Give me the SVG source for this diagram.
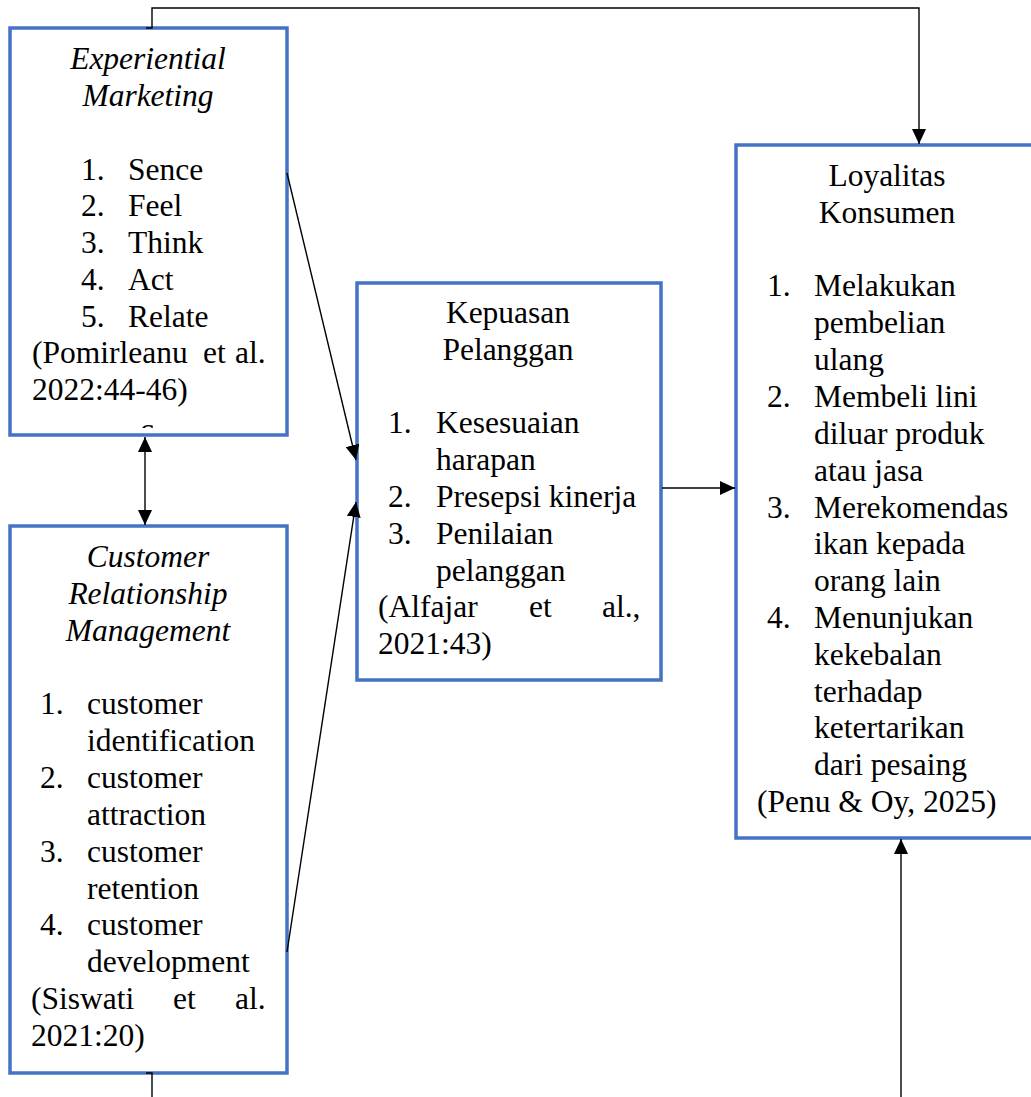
<svg xmlns="http://www.w3.org/2000/svg" width="1031" height="1097" viewBox="0 0 1031 1097">
<defs>
<style>
.box{fill:#ffffff;stroke:#4472C4;stroke-width:3.5}
.t{font-family:"Liberation Serif","Times New Roman",serif;font-size:31.5px;fill:#000}
.c{text-anchor:middle}
.i{font-style:italic}
.ln{fill:none;stroke:#000;stroke-width:1.4}
</style>
<marker id="ah" markerUnits="userSpaceOnUse" markerWidth="16" markerHeight="14" refX="15" refY="7" orient="auto-start-reverse">
<path d="M0,0 L15,7 L0,14 z" fill="#000"/>
</marker>
<clipPath id="cclip"><rect x="120" y="410" width="60" height="18"/></clipPath>
</defs>
<rect width="1031" height="1097" fill="#ffffff"/>

<g id="node-experiential">
<rect class="box" x="10" y="28" width="277" height="407"/>
<text class="t c i" x="148" y="69">Experiential</text>
<text class="t c i" x="148" y="106">Marketing</text>
<text class="t" x="81" y="180">1.</text><text class="t" x="128" y="180">Sence</text>
<text class="t" x="81" y="216">2.</text><text class="t" x="128" y="216">Feel</text>
<text class="t" x="81" y="253">3.</text><text class="t" x="128" y="253">Think</text>
<text class="t" x="81" y="290">4.</text><text class="t" x="128" y="290">Act</text>
<text class="t" x="81" y="327">5.</text><text class="t" x="128" y="327">Relate</text>
<text class="t" x="32" y="363">(Pomirleanu</text><text class="t" x="203" y="363">et</text><text class="t" x="235" y="363">al.</text>
<text class="t" x="32" y="400">2022:44-46)</text>
<text class="t c" x="147" y="440" clip-path="url(#cclip)">c</text>
</g>

<g id="node-crm">
<rect class="box" x="10" y="526" width="277" height="547"/>
<text class="t c i" x="148" y="567">Customer</text>
<text class="t c i" x="148" y="604">Relationship</text>
<text class="t c i" x="148" y="641">Management</text>
<text class="t" x="40" y="714">1.</text><text class="t" x="87" y="714">customer</text>
<text class="t" x="87" y="751">identification</text>
<text class="t" x="40" y="788">2.</text><text class="t" x="87" y="788">customer</text>
<text class="t" x="87" y="825">attraction</text>
<text class="t" x="40" y="862">3.</text><text class="t" x="87" y="862">customer</text>
<text class="t" x="87" y="899">retention</text>
<text class="t" x="40" y="935">4.</text><text class="t" x="87" y="935">customer</text>
<text class="t" x="87" y="972">development</text>
<text class="t" x="31" y="1009">(Siswati</text><text class="t" x="173" y="1009">et</text><text class="t" x="235" y="1009">al.</text>
<text class="t" x="31" y="1046">2021:20)</text>
</g>

<g id="node-kepuasan">
<rect class="box" x="357" y="283" width="304" height="397"/>
<text class="t c" x="508" y="323">Kepuasan</text>
<text class="t c" x="508" y="360">Pelanggan</text>
<text class="t" x="388" y="433">1.</text><text class="t" x="436" y="433">Kesesuaian</text>
<text class="t" x="436" y="470">harapan</text>
<text class="t" x="388" y="507">2.</text><text class="t" x="436" y="507">Presepsi kinerja</text>
<text class="t" x="388" y="544">3.</text><text class="t" x="436" y="544">Penilaian</text>
<text class="t" x="436" y="581">pelanggan</text>
<text class="t" x="378" y="617">(Alfajar</text><text class="t" x="529" y="617">et</text><text class="t" x="602" y="617">al.,</text>
<text class="t" x="378" y="654">2021:43)</text>
</g>

<g id="node-loyalitas">
<rect class="box" x="736" y="145" width="304" height="693"/>
<text class="t c" x="887" y="186">Loyalitas</text>
<text class="t c" x="887" y="223">Konsumen</text>
<text class="t" x="767" y="296">1.</text><text class="t" x="814" y="296">Melakukan</text>
<text class="t" x="814" y="333">pembelian</text>
<text class="t" x="814" y="370">ulang</text>
<text class="t" x="767" y="407">2.</text><text class="t" x="814" y="407">Membeli lini</text>
<text class="t" x="814" y="444">diluar produk</text>
<text class="t" x="814" y="481">atau jasa</text>
<text class="t" x="767" y="518">3.</text><text class="t" x="814" y="518">Merekomendas</text>
<text class="t" x="814" y="554">ikan kepada</text>
<text class="t" x="814" y="591">orang lain</text>
<text class="t" x="767" y="628">4.</text><text class="t" x="814" y="628">Menunjukan</text>
<text class="t" x="814" y="665">kekebalan</text>
<text class="t" x="814" y="702">terhadap</text>
<text class="t" x="814" y="738">ketertarikan</text>
<text class="t" x="814" y="775">dari pesaing</text>
<text class="t" x="757" y="812">(Penu &amp; Oy, 2025)</text>
</g>

<g id="connectors">
<path class="ln" d="M146,28 H152 V8 H919 V144" marker-end="url(#ah)"/>
<line class="ln" x1="145" y1="437" x2="145" y2="525" marker-start="url(#ah)" marker-end="url(#ah)"/>
<line class="ln" x1="287" y1="173" x2="356" y2="460" marker-end="url(#ah)"/>
<line class="ln" x1="287" y1="952" x2="356" y2="502" marker-end="url(#ah)"/>
<line class="ln" x1="662" y1="488" x2="735" y2="488" marker-end="url(#ah)"/>
<path class="ln" d="M146,1073 H152 V1097"/>
<line class="ln" x1="901" y1="1097" x2="901" y2="839" marker-end="url(#ah)"/>
</g>
</svg>
